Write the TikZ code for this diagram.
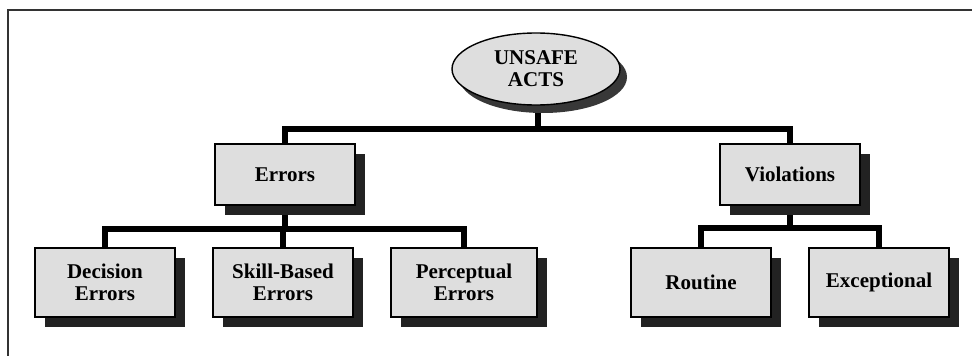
\documentclass[tikz,border=0pt]{standalone}
\usepackage{fontspec}
\setmainfont{Liberation Serif}
\usetikzlibrary{shapes,shadows,backgrounds}
\definecolor{boxgray}{HTML}{DEDEDE}
\definecolor{shadowgray}{HTML}{222222}
\begin{document}
\begin{tikzpicture}[x=1pt,y=-1pt]
\tikzstyle{act}=[draw=black, line width=1.4pt, fill=boxgray, align=center, inner sep=0pt,
  font=\fontsize{21}{22}\selectfont\bfseries]
\tikzstyle{box}=[act, rectangle, minimum width=140pt, minimum height=61pt,
  drop shadow={shadow xshift=10pt, shadow yshift=-10pt, fill=shadowgray, opacity=1}]
\tikzstyle{leaf}=[box, minimum height=69pt]
\tikzstyle{bus}=[line width=6pt]
\useasboundingbox (0,0) rectangle (972,356);
% frame
\draw[line width=1.8pt, black!80] (8,356) -- (8,10) -- (972,10);
% nodes
\node[act, ellipse, minimum width=168pt, minimum height=72pt,
  drop shadow={shadow xshift=7pt, shadow yshift=-8pt, fill=shadowgray!90, opacity=1}] (acts) at (536,69) {UNSAFE\\ACTS};
\node[box] (err) at (285,174.5) {Errors};
\node[box] (vio) at (790,174.5) {Violations};
\node[leaf] (dec) at (105,282.5) {Decision\\Errors};
\node[leaf] (skl) at (283,282.5) {Skill-Based\\Errors};
\node[leaf, minimum width=146pt] (per) at (464,282.5) {Perceptual\\Errors};
\node[leaf] (rou) at (701,282.5) {Routine};
\node[leaf] (exc) at (879,282.5) {Exceptional};
\coordinate (b0) at (538,129);
\coordinate (b1) at (285,229);
\coordinate (b2) at (790,228);
% connectors
\begin{scope}[on background layer]
\draw[bus] (acts.south -| b0) -- (b0);
\draw[bus] (b0) -| (err.north);
\draw[bus] (b0) -| (vio.north);
\draw[bus] (err.south) -- (b1);
\draw[bus] (b1) -| (dec.north);
\draw[bus] (b1) -| (skl.north);
\draw[bus] (b1) -| (per.north);
\draw[bus] (vio.south) -- (b2);
\draw[bus] (b2) -| (rou.north);
\draw[bus] (b2) -| (exc.north);
\end{scope}
\end{tikzpicture}
\end{document}
